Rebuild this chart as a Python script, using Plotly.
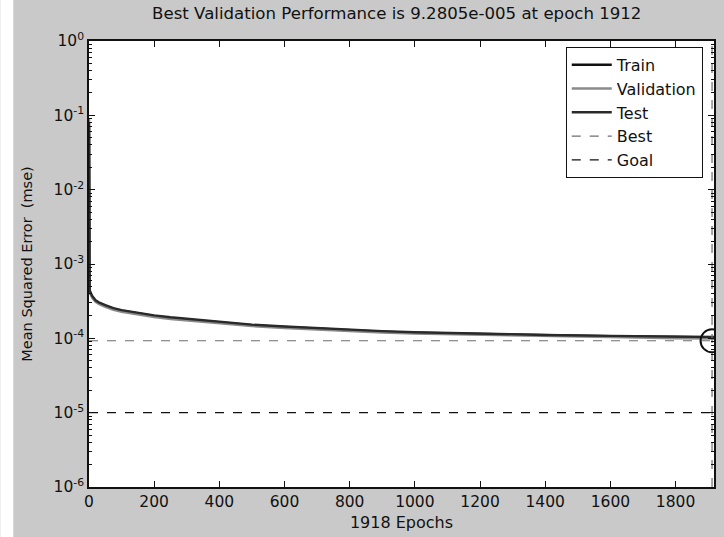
import plotly.graph_objects as go

# ---- data ----
epochs = [0, 1, 2, 5, 10, 20, 30, 50, 75, 100, 150, 200, 250, 300, 400, 500,
          600, 700, 800, 900, 1000, 1200, 1400, 1600, 1800, 1918]
train = [0.07, 4.6e-4, 4.4e-4, 4.0e-4, 3.6e-4, 3.2e-4, 3.0e-4, 2.75e-4, 2.5e-4,
         2.35e-4, 2.15e-4, 2.0e-4, 1.88e-4, 1.8e-4, 1.62e-4, 1.5e-4,
         1.42e-4, 1.35e-4, 1.28e-4, 1.23e-4, 1.19e-4, 1.14e-4, 1.1e-4, 1.07e-4, 1.04e-4, 1.03e-4]
validation = [0.09, 4.5e-4, 4.3e-4, 3.9e-4, 3.5e-4, 3.1e-4, 2.9e-4, 2.65e-4, 2.42e-4,
              2.28e-4, 2.08e-4, 1.94e-4, 1.82e-4, 1.74e-4, 1.57e-4, 1.46e-4,
              1.38e-4, 1.31e-4, 1.25e-4, 1.2e-4, 1.16e-4, 1.11e-4, 1.07e-4, 1.04e-4, 1.0e-4, 9.9e-5]
test = [0.08, 4.7e-4, 4.5e-4, 4.1e-4, 3.7e-4, 3.25e-4, 3.05e-4, 2.8e-4, 2.55e-4,
        2.4e-4, 2.2e-4, 2.04e-4, 1.92e-4, 1.83e-4, 1.65e-4, 1.53e-4,
        1.44e-4, 1.37e-4, 1.3e-4, 1.25e-4, 1.21e-4, 1.15e-4, 1.11e-4, 1.08e-4, 1.05e-4, 1.04e-4]
best_epoch = 1912
best_perf = 9.2805e-5
goal = 1e-5
n_epochs = 1918
y_min, y_max = 1e-6, 1e0
x_ticks = [0, 200, 400, 600, 800, 1000, 1200, 1400, 1600, 1800]
y_tick_exps = [0, -1, -2, -3, -4, -5, -6]
y_tick_text = ["10<sup>%d</sup>" % e for e in y_tick_exps]

FONT = "DejaVu Sans, sans-serif"
BG = "#c9c9c9"
INK = "#111111"

fig = go.Figure()
fig.add_trace(go.Scatter(x=epochs, y=train, mode="lines", name="Train",
                         line=dict(color=INK, width=2.4)))
fig.add_trace(go.Scatter(x=epochs, y=validation, mode="lines", name="Validation",
                         line=dict(color="#8a8a8a", width=2.4)))
fig.add_trace(go.Scatter(x=epochs, y=test, mode="lines", name="Test",
                         line=dict(color="#2a2a2a", width=2.4)))
fig.add_trace(go.Scatter(x=[0, n_epochs, None, best_epoch, best_epoch],
                         y=[best_perf, best_perf, None, y_min, y_max],
                         mode="lines", name="Best",
                         line=dict(color="#6e6e6e", width=1.2, dash="dash")))
fig.add_trace(go.Scatter(x=[0, n_epochs], y=[goal, goal], mode="lines", name="Goal",
                         line=dict(color=INK, width=1.2, dash="dash")))
fig.add_trace(go.Scatter(x=[best_epoch], y=[best_perf], mode="markers", showlegend=False,
                         marker=dict(symbol="circle-open", size=23, color=INK,
                                     line=dict(color=INK, width=2))))

fig.update_layout(
    width=724, height=537,
    margin=dict(l=89, r=8, t=41, b=49),
    paper_bgcolor=BG, plot_bgcolor="white",
    font=dict(family=FONT, size=15, color=INK),
    title=dict(text="Best Validation Performance is 9.2805e-005 at epoch 1912",
               x=0.548, xref="container", xanchor="center",
               y=1 - 13 / 537, yref="container", yanchor="middle",
               font=dict(family=FONT, size=16.6, color=INK)),
    showlegend=True,
    legend=dict(x=0.982, y=0.987, xanchor="right", yanchor="top",
                bgcolor="white", bordercolor=INK, borderwidth=1,
                font=dict(family=FONT, size=16, color=INK),
                tracegroupgap=0, itemwidth=40),
    shapes=[dict(type="rect", xref="paper", yref="paper",
                 x0=-89 / 627, x1=-76 / 627, y0=-0.2, y1=1.2,
                 fillcolor="white", line=dict(width=0), layer="below")],
)
fig.update_xaxes(range=[0, n_epochs], tickvals=x_ticks, ticks="inside", ticklen=6,
                 tickcolor=INK, showline=True, linecolor=INK, linewidth=1.5,
                 mirror="ticks", showgrid=False, zeroline=False,
                 title=dict(text="1918 Epochs", standoff=6,
                            font=dict(family=FONT, size=16, color=INK)),
                 tickfont=dict(size=15.5))
fig.update_yaxes(type="log", range=[-6, 0], tickvals=[10 ** e for e in y_tick_exps],
                 ticktext=y_tick_text, ticks="inside", ticklen=6, tickcolor=INK,
                 showline=True, linecolor=INK, linewidth=1.5, mirror="ticks",
                 showgrid=False, zeroline=False,
                 minor=dict(ticks="inside", ticklen=3, tickcolor=INK, dtick="D1",
                            showgrid=False),
                 title=dict(text="Mean Squared Error\u00a0\u00a0(mse)", standoff=18,
                            font=dict(family=FONT, size=14.5, color=INK)),
                 tickfont=dict(size=15.5))

fig.write_html("out.html")
